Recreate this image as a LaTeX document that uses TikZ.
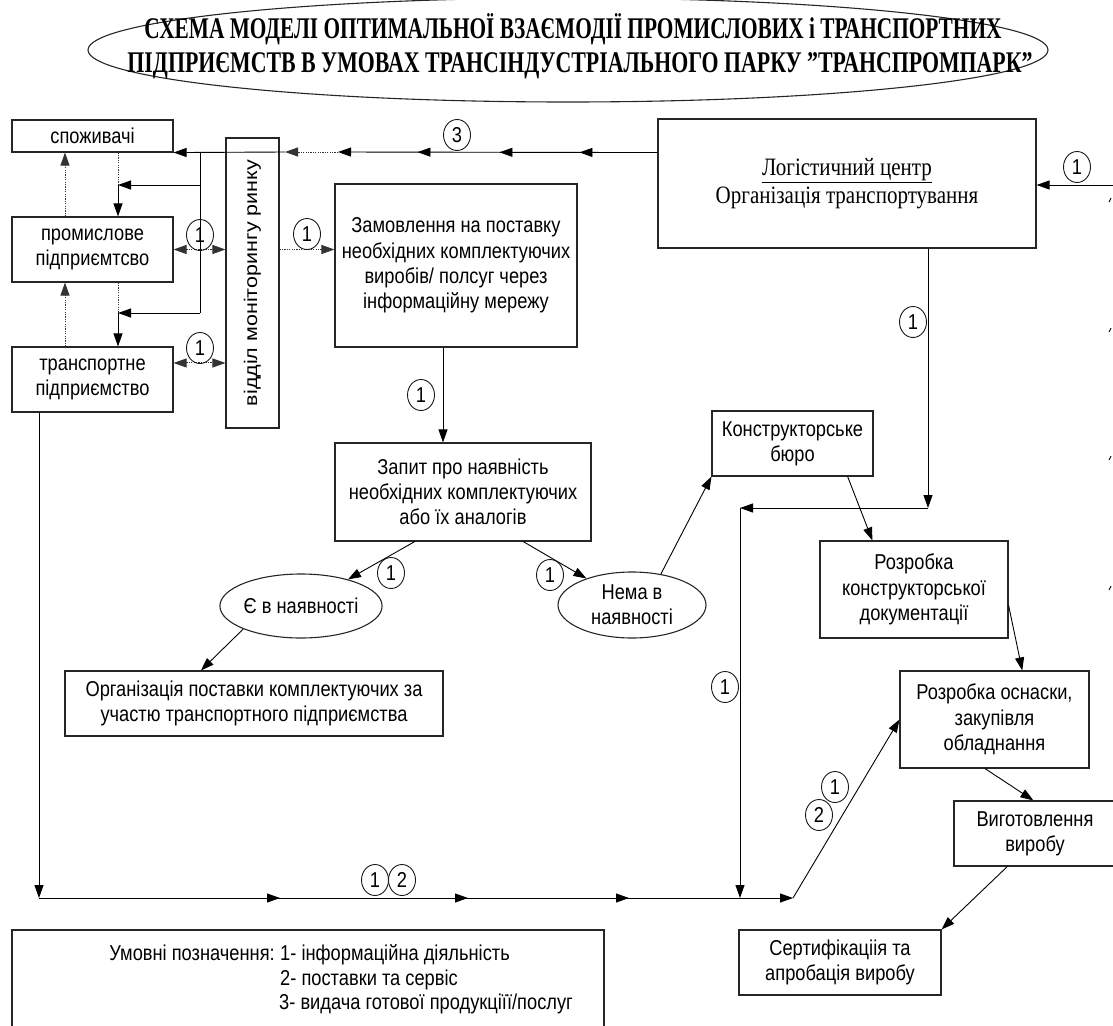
\documentclass[tikz,border=0pt]{standalone}
\usepackage{fontspec}
\setmainfont{Liberation Serif}
\setsansfont[FakeStretch=0.85]{Liberation Sans}
\newfontfamily\sfplain{Liberation Sans}
\newfontfamily\rmnarrow[FakeStretch=0.84]{Liberation Serif}
\usetikzlibrary{arrows.meta,decorations.markings,calc,shapes.geometric}

% rectangle node given by its corners: name, x1, y1, x2, y2, text
\newcommand\rectnode[6]{%
  \node[box, minimum width={(#4-#2)*1pt}, minimum height={(#5-#3)*1pt}]
    (#1) at ({(#2+#4)/2},{(#3+#5)/2}) {#6};}

\begin{document}
\begin{tikzpicture}[x=1pt,y=-1pt,
  every node/.style={font=\sffamily\fontsize{21.5}{25.3}\selectfont, align=center, inner sep=0pt},
  box/.style={draw=black!85, line width=1.1pt, rectangle},
  oval/.style={draw=black!85, line width=1.1pt, ellipse, minimum width=148pt},
  tag/.style={draw=black!90, line width=0.9pt, ellipse, minimum width=27pt, minimum height=31pt},
  ln/.style={draw=black, line width=0.9pt},
  dotln/.style={draw=black!80, line width=1pt, dash pattern=on 1.2pt off 1.2pt},
  >={Triangle[length=13pt,width=9pt]},
  tipat/.style={postaction={decorate,decoration={markings,mark=at position #1 with {\arrow{>}}}}}]

\useasboundingbox (0,0) rectangle (1113,1025);

% ---------- title ----------
\node[draw=black!85, line width=1.1pt, ellipse, minimum width=960pt, minimum height=104pt] (title) at (568,50) {};
\node[font=\rmfamily\bfseries\fontsize{30}{34}\selectfont, anchor=base] (t1) at (573,39)
  {\resizebox{857pt}{\height}{СХЕМА МОДЕЛІ ОПТИМАЛЬНОЇ ВЗАЄМОДІЇ ПРОМИСЛОВИХ і ТРАНСПОРТНИХ}};
\node[font=\rmfamily\bfseries\fontsize{30}{34}\selectfont, anchor=base] (t2) at (580,73)
  {\resizebox{905pt}{\height}{ПІДПРИЄМСТВ В УМОВАХ ТРАНСІНДУСТРІАЛЬНОГО ПАРКУ ”ТРАНСПРОМПАРК”}};

% ---------- boxes ----------
\rectnode{spozh}{12}{120}{173}{152}{споживачі}
\rectnode{prom}{12}{217}{173}{282}{промислове\\підприємтсво}
\rectnode{trans}{12}{347}{173}{412}{транспортне\\підприємство}
\rectnode{vbox}{226}{138}{279}{428}{}
\node[rotate=90, font=\sfplain\fontsize{21.5}{25.3}\selectfont] (vtext) at (vbox.center)
  {\scalebox{1}[0.85]{відділ моніторингу ринку}};
\rectnode{zam}{335}{184}{577}{347}{Замовлення на поставку\\необхідних комплектуючих\\виробів/ полсуг через\\інформаційну мережу}
\node[box, minimum width=378pt, minimum height=129pt, font=\rmnarrow\fontsize{25}{28.5}\selectfont]
  (lc) at (847,183.5) {\underline{Логістичний центр}\\Організація транспортування};
\rectnode{zapyt}{335}{443}{591}{541}{Запит про наявність\\необхідних комплектуючих\\або їх аналогів}
\rectnode{kb}{712}{411}{873}{476}{Конструкторське\\бюро}
\rectnode{rkd}{820}{541}{1008}{638}{Розробка\\конструкторської\\документації}
\rectnode{ros}{900}{671}{1089}{768}{Розробка оснаски,\\закупівля\\обладнання}
\rectnode{vyg}{954}{801}{1116}{866}{Виготовлення\\виробу}
\rectnode{sert}{739}{930}{941}{995}{Сертифікаціія та\\апробація виробу}
\rectnode{org}{65}{671}{443}{736}{Організація поставки комплектуючих за\\участю транспортного підприємства}
\node[oval, minimum height=64pt] (e1) at (301,606) {Є в наявності};
\node[oval, minimum height=66pt] (e2) at (632,605) {Нема в\\наявності};

% ---------- legend ----------
\rectnode{legend}{12}{930}{604}{1040}{}
\node[anchor=base east] (lg0) at (275,960) {Умовні позначення:};
\node[anchor=base west] (lg1) at (280,960) {1- інформаційна діяльність};
\node[anchor=base west] (lg2) at (280,985) {2- поставки та сервіс};
\node[anchor=base west] (lg3) at (279,1009) {3- видача готової продукціїї/послуг};

% ---------- junction points ----------
\coordinate (p338) at (338,152);
\coordinate (p285) at (285,152);
\coordinate (t200) at (200,152);
\coordinate (j185) at (200,185);
\coordinate (j313) at (200,313);
\coordinate (k185) at (118,185);
\coordinate (k313) at (118,313);
\coordinate (u65) at (65,0);
\coordinate (r508) at (928,508);
\coordinate (l508) at (740,508);
\coordinate (l898) at (740,898);
\coordinate (b0) at (39,898);
\coordinate (b1) at (793,898);
\coordinate (rin) at (1120,185);
\coordinate (ttr) at ($(trans.north east)!0.25!(trans.south east)$);

% ---------- flow 3: to consumers ----------
\draw[ln,->,tipat=78pt,tipat=158pt,tipat=240pt] (lc.west |- spozh.south) -- (p338);
\draw[dotln,->] (p338) -- (p285);
\draw[ln,->] (p285) -- (spozh.south east);

% ---------- left block ----------
\draw[ln] (t200) -- (j313);
\draw[ln,->] (j185) -- (k185);
\draw[ln,->] (j313) -- (k313);
\draw[dotln] (spozh.south -| k185) -- (k185);
\draw[ln,->] (k185) -- (prom.north -| k185);
\draw[dotln] (prom.south -| k313) -- (k313);
\draw[ln,->] (k313) -- (trans.north -| k313);
\draw[dotln,->] (prom.north -| u65) -- (spozh.south -| u65);
\draw[dotln,->] (trans.north -| u65) -- (prom.south -| u65);
\draw[dotln,<->] (prom.east) -- (prom.east -| vbox.west);
\draw[dotln,<->] (ttr) -- (ttr -| vbox.west);
\draw[dotln,->] (prom.east -| vbox.east) -- (prom.east -| zam.west);

% ---------- order and request ----------
\draw[ln,->] (443,0 |- zam.south) -- (443,0 |- zapyt.north);
\draw[ln,->] ($(zapyt.south west)!0.3125!(zapyt.south east)$) -- (e1);
\draw[ln,->] ($(zapyt.south west)!0.734!(zapyt.south east)$) -- (e2);
\draw[ln,->] (e1.south west) -- ($(org.north west)!0.36!(org.north east)$);
\draw[ln,->] (e2.47) -- (kb.south west);

% ---------- design and production ----------
\draw[ln,->] ($(kb.south west)!0.84!(kb.south east)$) -- ($(rkd.north west)!0.28!(rkd.north east)$);
\draw[ln,->] ($(rkd.north east)!0.66!(rkd.south east)$) -- ($(ros.north west)!0.646!(ros.north east)$);
\draw[ln,->] ($(ros.south west)!0.45!(ros.south east)$) -- ($(vyg.north west)!0.49!(vyg.north east)$);
\draw[ln,->] ($(vyg.south west)!0.33!(vyg.south east)$) -- (sert.north east);

% ---------- logistics centre links ----------
\draw[ln,->] (rin) -- (lc.east |- rin);
\draw[ln,->] (lc.south -| r508) -- (r508);
\draw[ln,->] (r508) -- (l508);
\draw[ln,->] (l508) -- (l898);

% ---------- supply line ----------
\draw[ln,->] (trans.south -| b0) -- (b0);
\draw[ln,->,tipat=241pt,tipat=429pt,tipat=590pt] (b0) -- (b1);
\draw[ln,->] (b1) -- (ros.west);

% ---------- edge marks ----------
\draw[ln] (1109,202) -- (1111,198);
\draw[ln] (1109,332) -- (1111,328);
\draw[ln] (1109,460) -- (1111,456);
\draw[ln] (1109,590) -- (1111,586);

% ---------- flow tags ----------
\node[tag] (c1) at (200,235) {1};
\node[tag] (c2) at (200,348) {1};
\node[tag] (c3) at (307,234) {1};
\node[tag] (c4) at (457,135) {3};
\node[tag] (c5) at (421,395) {1};
\node[tag] (c6) at (391,573) {1};
\node[tag] (c7) at (550,575) {1};
\node[tag] (c8) at (913,322) {1};
\node[tag] (c9) at (725,687) {1};
\node[tag] (c10) at (1077,167) {1};
\node[tag] (c11) at (835,787) {1};
\node[tag] (c12) at (819,815) {2};
\node[tag] (c13) at (375,880) {1};
\node[tag] (c14) at (402,880) {2};
\end{tikzpicture}
\end{document}
